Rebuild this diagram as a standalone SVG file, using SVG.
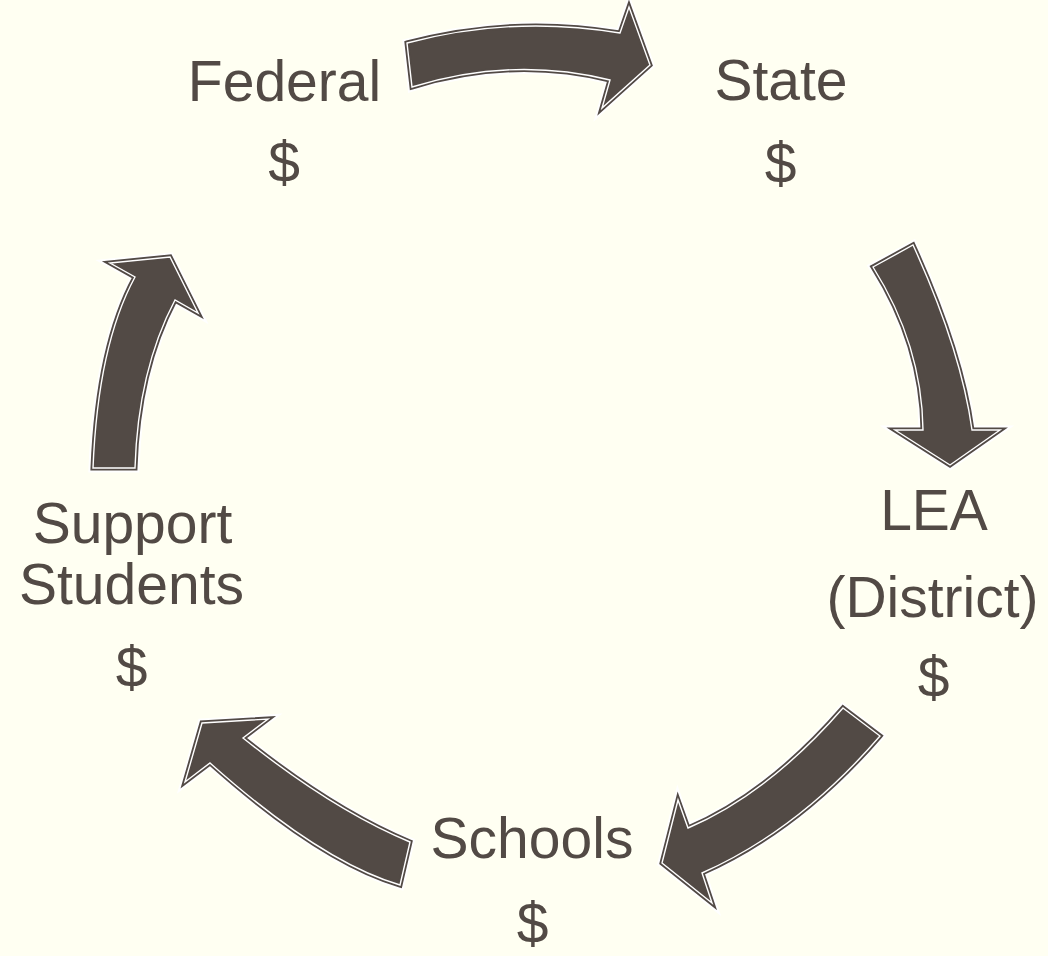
<svg xmlns="http://www.w3.org/2000/svg" width="1048" height="956" viewBox="0 0 1048 956">
<defs>
<style>
.bg{fill:#FFFFF2}
.glow{fill:none;stroke:#FFFFFF;stroke-width:9;stroke-linejoin:miter}
.body{fill:#524A45;stroke:#524A45;stroke-width:5;stroke-linejoin:miter}
.inner{fill:none;stroke:#FFFFFF;stroke-width:1.4;stroke-linejoin:miter}
.lbl{font-family:"Liberation Sans",Arial,sans-serif;font-size:57px;fill:#524A45;text-anchor:middle}
</style>
<path id="a1" d="M407,43 Q512,15 620,33 L629,7 L650,65 L602,108 L610,80 Q512,56 412,87 Z"/>
<path id="a2" d="M873,267 L913,245 Q961,350 972,430 L1000,430 L950,465 L895,430 L923,430 Q922,345 873,267 Z"/>
<path id="a3" d="M843,708 L880,736 Q799,830 702,873 L712,903 L662,863 L678,800 L688,828 Q768,794 843,708 Z"/>
<path id="a4" d="M410,842 L400,885 Q321,862 210,763 L185,782 L202,723 L268,719 L243,738 Q333,810 410,842 Z"/>
<path id="a5" d="M93,468 L135,468 Q138,370 175,300 L198,313 L170,257 L110,263 L135,277 Q98,345 93,468 Z"/>
</defs>
<rect class="bg" x="0" y="0" width="1048" height="956"/>
<g id="connectors">
<g id="arrow-federal-state"><use href="#a1" class="glow"/><use href="#a1" class="body"/><use href="#a1" class="inner"/></g>
<g id="arrow-state-lea"><use href="#a2" class="glow"/><use href="#a2" class="body"/><use href="#a2" class="inner"/></g>
<g id="arrow-lea-schools"><use href="#a3" class="glow"/><use href="#a3" class="body"/><use href="#a3" class="inner"/></g>
<g id="arrow-schools-support"><use href="#a4" class="glow"/><use href="#a4" class="body"/><use href="#a4" class="inner"/></g>
<g id="arrow-support-federal"><use href="#a5" class="glow"/><use href="#a5" class="body"/><use href="#a5" class="inner"/></g>
</g>
<g id="node-federal">
<text class="lbl" x="284.5" y="101">Federal</text>
<text class="lbl" x="284" y="182">$</text>
</g>
<g id="node-state">
<text class="lbl" x="781" y="100">State</text>
<text class="lbl" x="780.5" y="183">$</text>
</g>
<g id="node-lea">
<text class="lbl" x="934" y="530">LEA</text>
<text class="lbl" x="932.5" y="617">(District)</text>
<text class="lbl" x="933.5" y="697">$</text>
</g>
<g id="node-schools">
<text class="lbl" x="532" y="858">Schools</text>
<text class="lbl" x="532.5" y="943">$</text>
</g>
<g id="node-support">
<text class="lbl" x="132.5" y="543">Support</text>
<text class="lbl" x="131.5" y="604">Students</text>
<text class="lbl" x="131.5" y="687">$</text>
</g>
</svg>
